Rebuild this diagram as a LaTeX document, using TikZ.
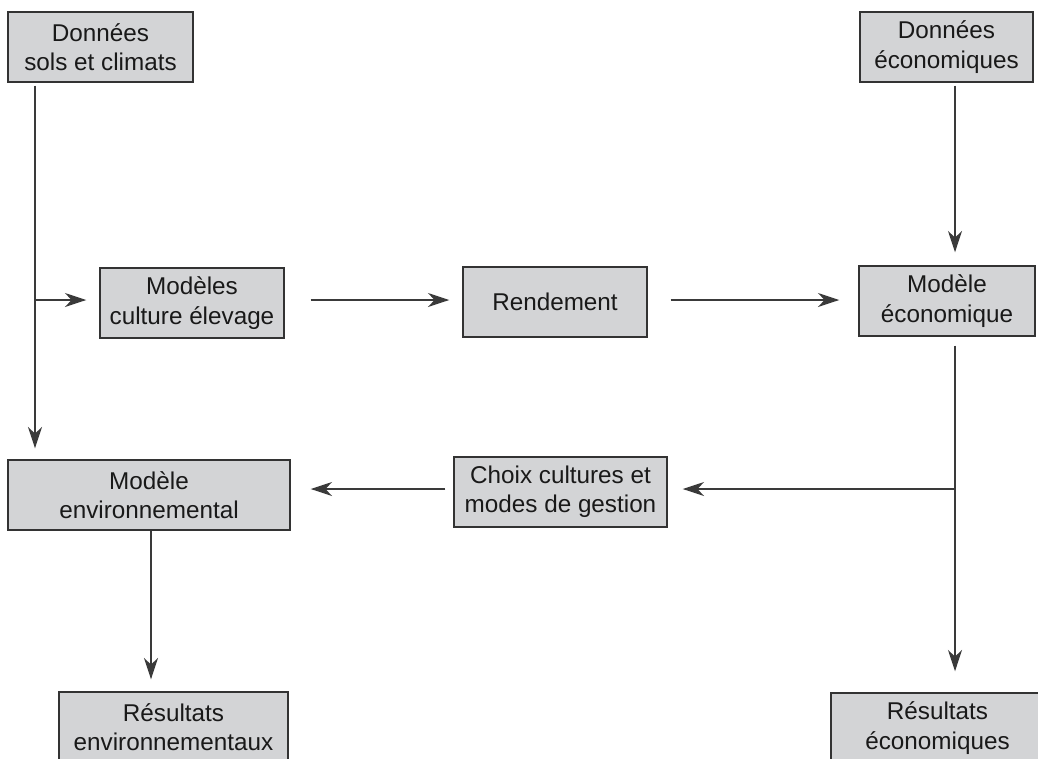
\documentclass[tikz,border=0pt]{standalone}
\usepackage{fontspec}
\setmainfont{Liberation Sans}
\usetikzlibrary{arrows.meta,calc}
\definecolor{boxfill}{HTML}{D3D4D6}
\definecolor{boxline}{HTML}{333333}
\definecolor{conn}{HTML}{3A3A3A}
\begin{document}
\begin{tikzpicture}[x=0.75pt,y=-0.75pt,
  box/.style={draw=boxline, fill=boxfill, line width=1.1pt, align=center, inner sep=0pt,
    minimum height=52.5pt, font=\fontsize{18.2}{22}\selectfont, text=black!90},
  arr/.style={draw=conn, line width=0.9pt, -{Stealth[length=16pt,width=10.5pt,inset=5pt]}}]
\clip (0,0) rectangle (1038,758);
\fill[white] (0,0) rectangle (1038,758);
% boxes
\node[box, minimum width=138.75pt] (d1) at (100.5,47) {Données\\sols et climats};
\node[box, minimum width=129.75pt] (d2) at (946.5,47) {Données\\économiques};
\node[box, minimum width=138pt] (mce) at (192,303) {Modèles\\culture élevage};
\node[box, minimum width=138pt] (ren) at (555,302) {Rendement};
\node[box, minimum width=132pt] (meco) at (947,301) {Modèle\\économique};
\node[box, minimum width=211.5pt] (menv) at (149,495) {Modèle\\environnemental};
\node[box, minimum width=159.75pt] (choix) at (560.5,492) {Choix cultures et\\modes de gestion};
\node[box, minimum width=171.75pt] (renv) at (173.5,727) {Résultats\\environnementaux};
\node[box, minimum width=159.75pt] (reco) at (937.5,728) {Résultats\\économiques};
% junction coordinates
\coordinate (a1) at (35,300);
\coordinate (a2) at (955,489);
\coordinate (a3) at (151,600);
% connectors
\draw[arr, shorten <=2.25pt, shorten >=8.25pt] (d1.south -| a1) -- (menv.north -| a1);
\draw[arr, shorten >=9.75pt] (a1) -- (a1 -| mce.west);
\draw[arr, shorten <=19.5pt, shorten >=9.75pt] (a1 -| mce.east) -- (a1 -| ren.west);
\draw[arr, shorten <=17.25pt, shorten >=14.25pt] (a1 -| ren.east) -- (a1 -| meco.west);
\draw[arr, shorten <=2.25pt, shorten >=9.75pt] (d2.south -| a2) -- (meco.north -| a2);
\draw[arr, shorten <=6.75pt, shorten >=15.75pt] (meco.south -| a2) -- (reco.north -| a2);
\draw[arr, shorten >=11.25pt] (a2) -- (a2 -| choix.east);
\draw[arr, shorten <=6pt, shorten >=15pt] (a2 -| choix.west) -- (a2 -| menv.east);
\draw[arr, shorten >=9pt] (menv.south -| a3) -- (renv.north -| a3);
\end{tikzpicture}
\end{document}
